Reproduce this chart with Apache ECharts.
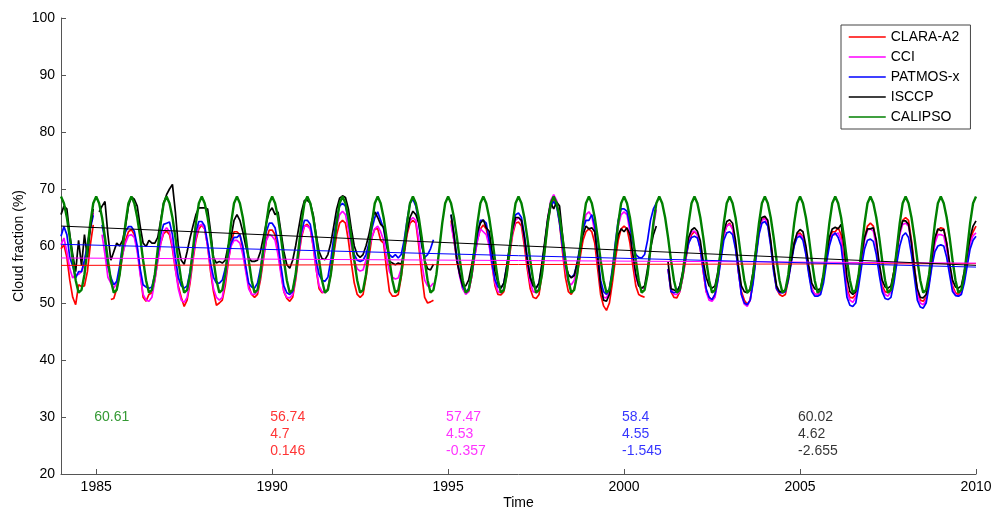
<!DOCTYPE html>
<html><head><meta charset="utf-8">
<script src="https://cdn.jsdelivr.net/npm/echarts@6/dist/echarts.min.js"></script>
<style>html,body{margin:0;padding:0;background:#fff}#c{width:994px;height:513px}</style>
</head><body><div id="c"></div>
<script>
// ---- data (monthly, Jan 1984 ... Jan 2010) ----
const startYear = 1984;
const seriesNames = ['CLARA-A2', 'CCI', 'PATMOS-x', 'ISCCP', 'CALIPSO'];
const seriesColors = ['#ff0000', '#ff00ff', '#0000ff', '#000000', '#008000'];

const claraA2 = [
59.5,60.2,58.0,54.0,51.0,49.7,53.2,52.9,53.0,55.5,60.2,63.7,
null,null,null,null,null,50.6,50.8,52.5,55.0,58.5,61.0,62.5,
62.9,62.0,59.5,55.5,51.0,50.3,51.5,51.8,54.0,57.5,60.5,62.2,
62.6,62.0,59.5,56.0,53.0,51.0,49.4,50.5,53.5,57.5,61.0,63.0,
63.7,63.0,60.0,55.5,52.0,49.6,50.0,50.5,53.0,57.0,60.5,62.5,
62.5,62.0,59.5,56.0,53.0,51.5,51.0,51.5,54.0,57.5,61.0,62.8,
62.8,62.0,59.0,55.5,52.0,50.8,50.3,51.0,54.0,58.0,61.5,63.5,
63.8,63.0,60.0,56.0,52.5,51.8,52.0,52.5,55.0,58.5,62.0,64.0,
64.5,64.0,61.0,57.0,53.5,51.5,51.0,51.5,54.5,58.0,61.5,63.0,
63.0,61.0,60.5,56.0,52.0,51.2,51.2,51.5,54.5,58.5,62.0,64.0,
64.5,64.0,60.0,55.0,51.0,50.0,50.2,50.5,null,null,null,null,
null,64.5,61.0,57.5,55.0,52.5,51.8,52.0,54.5,58.0,61.0,63.0,
63.7,63.0,60.5,56.5,53.0,51.5,51.4,52.0,55.0,58.5,62.0,64.0,
64.2,63.5,60.0,56.0,52.5,51.0,50.8,51.5,55.0,59.5,64.0,67.0,
68.2,67.5,64.0,59.0,54.5,52.0,51.5,52.5,55.0,58.0,61.0,62.5,
63.0,62.5,60.5,56.0,51.5,49.5,48.7,50.0,53.5,57.5,61.0,63.0,
63.5,63.0,60.5,56.5,53.0,51.5,51.2,51.0,null,null,null,null,
null,null,null,56.0,52.0,51.0,50.9,52.0,54.5,57.5,60.5,62.0,
62.5,62.0,59.5,55.5,52.0,51.0,50.6,51.5,54.5,58.5,62.0,63.5,
64.0,63.0,60.0,55.5,52.0,50.5,49.8,50.5,54.0,58.5,62.5,64.5,
65.0,64.0,60.5,56.0,52.5,51.5,51.2,51.5,54.0,57.5,60.5,62.0,
62.3,61.5,59.0,55.5,52.5,51.5,51.5,52.0,54.5,58.0,61.0,62.5,
62.5,63.2,62.0,57.0,52.5,51.0,50.9,51.5,54.5,58.0,61.5,63.5,
64.0,63.5,60.5,56.5,53.0,52.0,51.8,52.5,55.5,59.0,62.5,64.5,
65.0,64.5,61.0,56.5,52.0,50.5,50.3,51.0,54.0,57.5,61.0,62.8,
63.2,63.0,60.5,56.5,53.0,51.8,51.5,52.0,54.5,58.0,61.0,62.5,
63.5];

const cci = [
60.2,61.4,59.0,56.0,54.4,55.0,55.0,55.5,57.0,60.0,63.5,65.8,
null,null,62.0,58.5,54.5,53.5,52.6,53.5,55.5,58.5,60.5,61.8,
62.0,61.5,59.0,55.0,51.5,50.5,50.3,51.0,54.0,57.5,60.5,62.5,
63.2,62.5,60.0,56.0,52.5,50.5,50.1,51.0,54.0,58.0,61.5,63.5,
63.8,63.0,60.0,56.0,52.5,51.0,50.5,51.0,54.0,57.5,60.0,61.0,
61.0,60.5,58.5,55.5,52.5,51.5,51.5,52.0,54.5,58.0,61.0,62.0,
61.7,61.0,58.5,55.0,52.0,51.0,50.9,51.5,54.5,58.5,62.0,63.5,
63.5,63.0,60.0,56.0,53.0,52.0,51.8,52.5,55.5,59.5,63.5,65.5,
66.1,65.5,63.0,60.0,57.5,56.0,55.6,55.8,57.5,59.5,61.5,63.0,
63.5,62.5,61.0,58.0,55.5,54.5,54.2,54.4,56.0,59.0,62.5,64.5,
65.0,64.5,61.0,57.0,54.0,53.0,52.9,53.5,null,null,null,null,
null,63.8,61.0,57.5,54.5,52.5,51.5,52.0,54.5,58.0,61.0,63.0,
62.5,62.0,60.0,56.5,53.5,52.0,51.8,52.5,55.5,59.0,62.5,64.5,
65.0,64.3,61.0,57.0,53.5,52.0,51.8,52.5,56.0,60.5,65.0,68.0,
69.0,68.0,64.5,60.0,56.0,53.5,53.2,54.0,56.5,59.5,63.0,65.5,
66.0,65.2,62.5,57.5,53.0,51.0,50.9,52.0,55.5,59.5,63.5,65.5,
66.0,65.5,62.5,58.0,54.5,53.0,52.6,52.6,55.0,59.5,63.5,66.4,
null,null,null,56.0,52.5,51.5,51.5,52.0,54.5,58.0,61.0,62.5,
62.6,62.0,59.5,55.5,52.0,50.5,50.3,51.0,54.0,58.0,62.0,63.5,
63.8,63.0,60.0,55.5,51.5,49.8,49.4,50.5,54.0,58.5,62.5,64.5,
64.8,64.0,60.5,56.0,52.5,51.8,51.8,52.0,54.5,57.5,60.5,62.0,
61.9,61.5,59.0,55.5,52.5,51.5,51.5,52.0,54.5,58.0,60.5,62.0,
62.0,62.3,61.0,56.5,52.0,50.5,50.1,51.0,54.0,57.5,61.0,62.8,
63.0,62.6,60.0,56.0,52.5,51.5,51.2,52.0,55.0,58.5,62.0,63.8,
64.0,63.5,60.5,56.0,51.5,50.0,49.7,50.5,53.5,57.0,60.5,62.0,
62.0,61.8,59.5,56.0,52.5,51.5,51.2,51.8,54.0,57.5,60.5,61.8,
62.3];

const patmosx = [
61.7,63.4,62.0,58.0,56.5,54.4,55.5,55.5,57.5,60.2,63.0,65.4,
null,null,63.7,61.0,56.5,54.5,53.2,53.8,56.5,60.2,62.5,63.4,
63.4,62.6,60.0,56.0,53.2,52.8,52.6,52.8,55.0,58.5,62.0,63.8,
64.0,64.2,62.0,58.0,54.5,53.0,52.6,53.0,55.5,59.0,62.5,64.3,
64.3,63.5,60.5,57.0,54.5,53.5,53.5,54.0,56.0,58.5,60.5,61.5,
61.5,62.0,60.0,56.5,53.5,52.8,52.6,53.5,56.0,59.5,62.5,64.0,
64.0,63.2,60.5,56.5,53.0,51.8,51.5,52.0,55.0,59.0,62.5,64.5,
64.5,63.8,61.0,57.5,55.0,54.0,53.8,54.5,57.5,61.5,65.0,67.0,
67.5,67.0,64.5,61.0,58.5,57.5,57.3,57.5,58.5,60.5,63.0,65.0,
66.0,64.5,63.0,60.0,58.5,58.0,58.5,57.9,58.5,61.0,64.5,67.5,
68.2,67.0,64.0,60.0,58.0,58.5,59.5,61.1,null,null,null,null,
null,65.5,62.0,58.0,55.0,52.8,52.0,52.5,55.0,58.5,62.0,64.5,
64.5,64.0,61.0,57.0,54.0,52.8,52.6,53.5,56.5,60.0,63.5,65.5,
65.8,65.0,62.0,58.0,54.5,53.0,52.6,53.5,56.5,60.5,64.5,67.0,
67.8,67.0,64.0,60.0,56.5,55.0,54.5,55.0,57.0,60.0,63.0,64.5,
64.5,65.5,63.5,58.5,54.0,52.0,51.5,52.5,56.0,60.5,64.5,66.5,
66.5,66.1,63.5,60.5,58.5,58.0,57.9,58.5,61.0,64.5,66.5,67.5,
null,null,null,56.0,52.0,51.8,52.0,53.0,55.0,58.0,60.5,61.5,
61.7,61.4,59.5,56.0,52.5,51.0,50.6,51.5,54.0,57.5,61.0,62.3,
62.5,62.0,59.5,55.5,51.5,50.0,49.7,50.5,53.5,58.0,62.0,64.0,
64.3,63.5,60.0,55.5,52.5,51.8,51.8,52.0,54.0,57.0,60.0,61.5,
61.7,61.0,58.5,55.0,52.0,51.2,51.2,51.5,53.5,57.0,60.0,61.8,
62.3,61.5,60.0,55.5,51.0,49.6,49.4,50.0,53.0,56.5,59.5,61.0,
61.2,60.8,58.5,55.0,52.0,50.8,50.6,51.0,53.5,57.0,60.0,61.8,
62.3,61.5,58.5,54.5,50.5,49.3,49.1,50.0,53.0,56.5,59.0,60.0,
60.2,60.0,58.0,55.0,52.0,51.3,51.2,51.5,53.5,56.5,59.5,61.0,
61.7];

const isccp = [
65.5,67.0,66.5,62.0,58.5,55.5,61.0,56.5,62.0,58.0,63.2,66.5,
null,66.0,67.0,67.8,62.0,57.5,59.0,60.5,60.0,61.0,63.5,67.0,
68.6,68.2,67.0,63.5,60.5,59.9,61.0,60.5,60.5,61.5,64.5,67.5,
69.0,70.0,70.8,66.0,60.0,57.5,56.8,59.0,61.4,63.5,65.5,66.7,
66.7,66.7,66.5,62.6,58.0,57.0,57.3,57.0,57.5,60.0,61.5,64.5,
65.5,64.5,62.5,60.0,58.0,57.3,57.3,57.5,59.0,61.5,64.0,66.0,
66.7,65.5,66.0,62.5,59.0,56.7,56.1,57.5,60.0,63.0,66.0,68.0,
68.0,67.5,65.5,62.0,59.0,57.8,57.6,58.5,60.5,63.5,66.5,68.4,
68.8,68.5,66.5,63.0,60.0,58.5,58.0,58.5,60.0,62.0,64.5,66.0,
65.0,63.8,63.3,60.5,57.3,57.0,56.7,57.0,56.8,59.0,62.5,65.0,
66.1,65.5,64.0,60.5,57.5,56.0,55.8,56.8,null,null,null,null,
null,65.5,62.0,57.3,55.0,53.0,53.0,54.0,56.5,59.5,62.5,64.0,
64.6,63.2,62.6,59.0,55.5,53.5,52.6,53.5,56.5,60.0,63.0,65.0,
65.0,64.5,61.5,57.5,54.5,53.0,52.6,53.5,57.0,61.0,65.0,67.5,
66.5,67.7,67.0,62.0,57.0,55.0,54.4,54.8,57.0,59.5,62.0,63.5,
63.0,63.2,62.5,58.0,53.0,50.5,50.3,51.5,55.0,59.0,62.0,63.0,
62.5,63.2,62.0,58.5,55.0,53.0,52.6,53.0,56.0,59.5,62.0,63.5,
null,null,null,57.2,52.5,52.3,52.0,53.0,55.5,58.5,61.5,62.8,
63.2,62.6,60.9,57.3,54.5,53.0,52.6,53.0,55.5,59.5,62.5,64.3,
64.6,64.0,61.0,56.5,53.0,52.0,51.8,52.5,55.5,59.5,63.5,65.0,
65.2,64.5,61.0,56.5,53.0,52.0,52.0,52.3,54.5,57.5,60.5,62.3,
62.9,62.5,60.0,56.5,53.5,52.5,52.3,52.5,55.0,58.5,61.5,63.0,
63.3,63.0,63.8,60.0,54.5,52.0,51.5,52.0,55.0,58.5,61.5,63.0,
63.0,63.2,61.0,57.0,54.0,52.8,52.6,53.0,55.5,59.0,62.5,64.4,
64.4,63.8,60.5,56.0,52.5,51.0,50.9,51.5,54.5,58.0,61.5,63.0,
62.7,62.9,60.5,57.0,54.0,52.8,52.6,53.0,55.5,58.5,61.5,63.5,
64.4];

// CALIPSO: one monthly climatology (Jan..Dec), the same cycle every year
const calipsoClimatology = [68.7,67.5,65.0,61.5,57.5,54.0,51.8,52.3,55.0,59.5,64.0,67.5];
const calipsoYears = 26;

// linear trend lines: value at 1984 and at 2010
const trendStart = [56.6, 57.9, 60.3, 63.5];
const trendEnd   = [56.9, 57.0, 56.3, 56.6];
const trendRange = [1984, 2010];

// annotations (mean / std / trend per decade)
const annoYears = [1985, 1990, 1995, 2000, 2005];
const annoRowY = [30, 27, 24];
const annoColors = ['#008000', '#ff0000', '#ff00ff', '#0000ff', '#000000'];
const annoTexts = [
  ['60.61'],
  ['56.74', '4.7', '0.146'],
  ['57.47', '4.53', '-0.357'],
  ['58.4', '4.55', '-1.545'],
  ['60.02', '4.62', '-2.655']
];

const xTickValues = [1985, 1990, 1995, 2000, 2005, 2010];

// ---- build chart ----
const FONT = 'Liberation Sans, Arial, sans-serif';
function toPairs(arr) {
  return arr.map((v, i) => [startYear + i / 12, v == null ? '-' : v]);
}
const calipso = [];
for (let y = 0; y < calipsoYears; y++) calipso.push(...calipsoClimatology);
calipso.push(calipsoClimatology[0]);

const dataSets = [claraA2, cci, patmosx, isccp, calipso];
const series = [];
dataSets.forEach((d, k) => {
  series.push({
    name: seriesNames[k], type: 'line', data: toPairs(d),
    symbol: 'none', connectNulls: false,
    lineStyle: { color: seriesColors[k], width: k === 4 ? 2.4 : 1.7 },
    itemStyle: { color: seriesColors[k] },
    z: 2 + k
  });
});
trendStart.forEach((s, k) => {
  series.push({
    name: seriesNames[k] + ' trend', type: 'line',
    data: [[trendRange[0], s], [trendRange[1], trendEnd[k]]],
    symbol: 'none', silent: true,
    lineStyle: { color: seriesColors[k], width: 1 },
    z: 10
  });
});
const annoData = [];
annoTexts.forEach((col, c) => {
  col.forEach((t, r) => {
    annoData.push({ value: [annoYears[c], annoRowY[r]], label: { formatter: t, color: annoColors[c] } });
  });
});
series.push({
  type: 'scatter', symbolSize: 0, silent: true, data: annoData, z: 12,
  label: { show: true, position: 'right', distance: 0, offset: [-2, 0],
           fontFamily: FONT, fontSize: 14 }
});

const chart = echarts.init(document.getElementById('c'), null, { renderer: 'canvas' });
chart.setOption({
  animation: false,
  backgroundColor: '#ffffff',
  grid: { left: 61, right: 18, top: 18, bottom: 39, containLabel: false, outerBoundsMode: 'none' },
  legend: {
    data: seriesNames, orient: 'vertical', left: 841, top: 25,
    padding: [5, 11, 5, 7], itemGap: 6, itemWidth: 37, itemHeight: 14,
    backgroundColor: '#fff', borderColor: '#444', borderWidth: 1,
    itemStyle: { opacity: 0 },
    lineStyle: { width: 1.5 },
    textStyle: { fontFamily: FONT, fontSize: 14, color: '#000' },
    selectedMode: false
  },
  xAxis: {
    type: 'value', min: 1984, max: 2010,
    name: 'Time', nameLocation: 'middle', nameGap: 22, nameMoveOverlap: false,
    nameTextStyle: { fontFamily: FONT, fontSize: 14, color: '#000' },
    axisLine: { lineStyle: { color: '#555', width: 1 } },
    axisTick: { inside: true, length: 5, customValues: xTickValues, lineStyle: { color: '#555' } },
    axisLabel: { customValues: xTickValues, margin: 6, fontFamily: FONT, fontSize: 14, color: '#000',
                 formatter: v => String(v) },
    splitLine: { show: false }
  },
  yAxis: {
    type: 'value', min: 20, max: 100, interval: 10,
    name: 'Cloud fraction (%)', nameLocation: 'middle', nameGap: 35, nameRotate: 90, nameMoveOverlap: false,
    nameTextStyle: { fontFamily: FONT, fontSize: 14, color: '#000' },
    axisLine: { show: true, lineStyle: { color: '#555', width: 1 } },
    axisTick: { show: true, inside: true, length: 5, lineStyle: { color: '#555' } },
    axisLabel: { margin: 6, fontFamily: FONT, fontSize: 14, color: '#000' },
    splitLine: { show: false }
  },
  series: series
});
</script>
</body></html>
